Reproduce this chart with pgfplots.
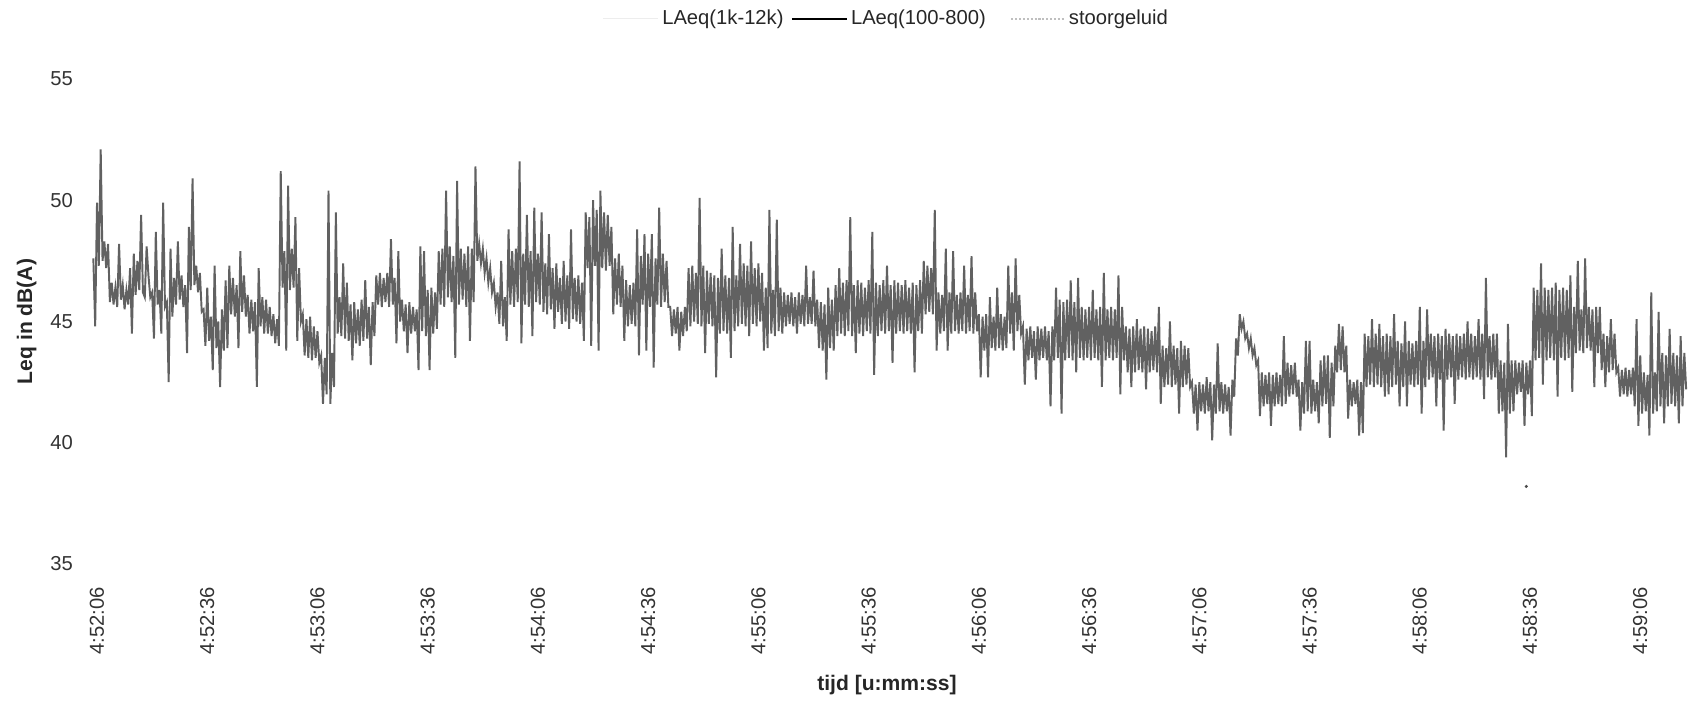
\documentclass[border=0pt]{standalone}
\usepackage{fontspec}
\setmainfont{Liberation Sans}
\usepackage{pgfplots}
\usepackage{pgfplotstable}
\pgfplotsset{compat=1.18}

% LAeq values, one every 0.5 s starting at -1 s (relative to 4:52:06)
\pgfplotstableread[header=false,row sep=\\]{
47.6\\44.8\\49.9\\47.3\\52.1\\47.5\\48.3\\47.2\\48.2\\45.8\\
46.6\\45.7\\46.4\\45.6\\48.2\\45.9\\46.5\\45.5\\46.3\\45.7\\
47.2\\44.5\\47.8\\46.1\\47.5\\46.3\\49.4\\46.2\\46.0\\48.1\\
46.9\\46.0\\46.2\\44.3\\48.7\\45.7\\46.3\\44.5\\49.9\\45.6\\
45.8\\42.5\\48.0\\45.2\\46.8\\45.7\\48.3\\45.9\\46.9\\45.6\\
46.5\\43.7\\48.9\\46.3\\50.9\\46.5\\47.3\\46.2\\47.0\\45.4\\
45.5\\44.0\\46.4\\44.2\\45.2\\43.0\\47.3\\43.9\\45.0\\42.3\\
45.5\\43.8\\46.7\\43.9\\47.3\\45.3\\46.8\\45.2\\46.5\\43.9\\
47.9\\45.4\\46.9\\45.2\\46.1\\44.5\\45.9\\44.6\\45.8\\42.3\\
47.2\\44.8\\46.0\\44.5\\45.9\\44.5\\45.6\\44.4\\45.3\\44.1\\
45.1\\44.0\\51.2\\46.4\\47.9\\43.8\\50.6\\46.3\\48.0\\46.4\\
49.3\\44.2\\47.2\\45.0\\45.3\\43.6\\45.1\\43.5\\45.2\\43.4\\
44.8\\43.5\\44.6\\43.3\\43.6\\41.6\\43.5\\42.0\\50.4\\41.6\\
43.7\\42.3\\49.5\\44.5\\46.0\\44.4\\47.4\\44.3\\46.6\\44.2\\
45.7\\43.4\\45.8\\44.1\\45.5\\44.0\\45.9\\44.2\\46.7\\44.3\\
45.6\\43.2\\45.8\\44.4\\46.9\\45.7\\47.0\\45.6\\46.8\\45.8\\
47.0\\45.6\\48.4\\45.7\\46.8\\44.1\\47.9\\45.0\\45.9\\44.6\\
45.7\\43.7\\45.8\\44.5\\45.6\\44.6\\45.5\\43.0\\48.1\\44.6\\
47.9\\44.4\\46.3\\43.0\\46.4\\44.5\\46.2\\44.7\\47.9\\45.7\\
48.0\\45.6\\50.4\\46.0\\48.1\\45.8\\47.7\\43.5\\50.8\\45.7\\
48.0\\45.9\\47.8\\45.6\\48.1\\44.2\\48.0\\45.8\\51.4\\47.5\\
48.2\\47.4\\48.0\\47.0\\47.6\\46.6\\47.2\\46.2\\46.6\\45.6\\
46.2\\44.9\\47.5\\44.8\\46.0\\44.2\\48.8\\45.7\\47.9\\45.6\\
48.0\\45.8\\51.6\\44.1\\47.8\\45.7\\49.4\\45.6\\47.9\\44.4\\
49.7\\45.8\\47.8\\45.7\\49.5\\45.4\\47.4\\45.3\\48.6\\45.5\\
47.2\\44.7\\47.4\\45.4\\46.8\\44.9\\47.5\\45.0\\46.9\\44.7\\
48.8\\45.1\\46.8\\45.0\\46.9\\44.9\\46.6\\44.2\\49.5\\47.2\\
49.3\\44.0\\50.0\\47.3\\49.6\\43.8\\50.4\\47.2\\49.5\\47.1\\
49.4\\47.3\\48.9\\45.3\\47.6\\45.7\\47.8\\45.6\\47.3\\44.2\\
46.7\\44.8\\46.5\\44.9\\46.6\\44.8\\48.8\\43.6\\47.7\\45.7\\
48.6\\43.8\\47.8\\45.6\\48.6\\43.1\\47.6\\45.7\\49.7\\45.6\\
47.8\\45.8\\47.5\\45.6\\45.6\\44.4\\45.5\\44.5\\45.6\\43.8\\
45.4\\44.4\\45.6\\44.6\\47.2\\44.8\\47.3\\45.0\\47.0\\44.9\\
50.1\\44.8\\47.3\\43.7\\47.1\\44.9\\47.0\\44.8\\46.9\\42.7\\
46.8\\44.5\\48.0\\44.6\\46.9\\44.5\\46.8\\43.5\\48.9\\44.6\\
46.9\\44.8\\48.2\\44.9\\47.4\\44.8\\47.3\\44.4\\48.3\\44.9\\
47.2\\44.8\\47.4\\45.0\\47.0\\43.8\\46.4\\43.9\\49.6\\44.5\\
46.3\\44.4\\49.2\\44.6\\46.4\\44.5\\46.2\\44.8\\46.1\\44.9\\
46.2\\44.8\\46.0\\44.5\\46.2\\44.9\\46.1\\44.8\\47.3\\44.9\\
46.0\\44.9\\47.1\\44.8\\45.9\\43.9\\45.8\\43.8\\45.7\\42.6\\
46.4\\43.9\\45.9\\43.8\\46.5\\44.4\\47.2\\44.5\\46.6\\44.4\\
46.7\\44.6\\49.3\\44.4\\46.5\\43.7\\46.7\\44.5\\46.6\\44.4\\
46.4\\44.6\\46.7\\44.5\\48.7\\42.8\\46.6\\44.4\\46.5\\44.6\\
46.7\\44.5\\47.3\\44.6\\46.5\\43.3\\46.7\\44.5\\46.6\\44.6\\
46.5\\44.5\\46.7\\44.6\\46.4\\44.5\\46.6\\42.9\\46.5\\44.6\\
46.7\\44.5\\47.5\\45.3\\47.3\\45.4\\47.2\\45.3\\49.6\\43.8\\
46.2\\44.5\\46.1\\44.6\\48.0\\43.8\\46.2\\44.5\\47.9\\44.6\\
46.1\\44.5\\46.2\\44.6\\47.3\\44.5\\46.1\\44.6\\47.7\\44.5\\
46.2\\44.6\\45.3\\42.7\\45.2\\43.8\\45.3\\42.7\\46.0\\43.9\\
45.2\\43.8\\46.4\\43.9\\45.3\\43.8\\45.2\\43.9\\47.3\\44.5\\
46.2\\43.8\\47.6\\44.6\\46.1\\44.5\\44.8\\42.4\\44.7\\43.4\\
44.8\\43.5\\44.6\\42.6\\44.8\\43.4\\44.7\\43.5\\44.8\\43.4\\
44.6\\41.5\\44.8\\43.4\\46.4\\43.5\\45.9\\41.2\\45.8\\43.4\\
45.9\\43.5\\46.7\\43.4\\45.8\\42.9\\46.8\\43.5\\45.6\\43.4\\
45.5\\43.5\\45.6\\43.4\\46.3\\43.5\\45.5\\43.4\\45.6\\42.3\\
47.0\\43.4\\45.5\\43.5\\45.6\\43.4\\45.5\\43.5\\46.9\\42.0\\
45.6\\43.4\\44.8\\42.9\\44.7\\42.3\\44.8\\42.9\\45.1\\43.0\\
44.7\\42.9\\44.8\\42.2\\44.7\\42.9\\44.6\\43.0\\44.8\\42.9\\
45.6\\41.6\\44.0\\42.3\\43.9\\42.4\\45.0\\42.3\\44.0\\42.4\\
43.9\\41.2\\44.2\\42.3\\44.0\\42.4\\43.9\\42.3\\42.5\\41.2\\
42.4\\40.5\\42.5\\41.3\\42.4\\41.2\\42.7\\41.3\\42.5\\40.1\\
42.4\\41.2\\44.1\\41.3\\42.5\\41.2\\42.4\\41.3\\42.3\\40.3\\
42.6\\41.9\\44.3\\43.6\\45.3\\44.7\\45.0\\44.3\\44.5\\43.9\\
44.3\\43.6\\43.9\\43.2\\43.4\\41.1\\42.9\\41.5\\42.8\\41.6\\
42.9\\40.7\\42.8\\41.5\\42.9\\41.6\\42.8\\41.5\\44.4\\41.6\\
43.3\\41.9\\43.2\\42.0\\43.3\\41.9\\42.6\\40.5\\42.5\\41.2\\
44.2\\41.3\\44.2\\41.2\\42.6\\41.3\\42.5\\40.8\\43.4\\41.5\\
43.6\\41.6\\43.6\\40.2\\43.3\\41.5\\44.0\\42.9\\44.9\\43.0\\
44.8\\42.9\\44.0\\41.0\\42.6\\41.5\\42.5\\41.6\\42.6\\40.3\\
42.5\\40.4\\44.5\\42.3\\44.4\\42.4\\45.1\\42.3\\44.5\\42.4\\
44.9\\42.3\\44.4\\41.9\\44.5\\42.0\\44.4\\42.3\\45.3\\42.4\\
44.2\\41.5\\44.1\\42.3\\45.0\\41.5\\44.2\\42.4\\44.1\\42.3\\
44.2\\42.4\\45.6\\41.2\\44.2\\42.3\\45.5\\42.6\\44.5\\42.7\\
44.4\\41.5\\44.5\\42.6\\44.4\\40.5\\44.7\\42.6\\44.5\\42.7\\
44.4\\41.6\\44.5\\42.6\\44.4\\42.7\\44.5\\42.6\\45.0\\42.7\\
44.5\\42.6\\44.4\\42.7\\45.1\\42.6\\44.5\\41.8\\46.8\\42.7\\
44.4\\42.6\\44.5\\42.7\\44.5\\41.2\\43.4\\41.3\\43.3\\39.4\\
44.9\\41.2\\43.4\\41.3\\43.4\\42.0\\43.3\\42.1\\43.4\\40.7\\
43.3\\42.0\\43.4\\41.1\\46.4\\43.4\\46.3\\43.5\\47.4\\42.4\\
46.4\\43.4\\46.3\\43.5\\46.4\\43.4\\46.6\\41.9\\46.3\\43.5\\
46.4\\43.4\\46.3\\43.5\\46.9\\42.1\\45.6\\43.7\\47.5\\43.8\\
45.5\\43.7\\47.6\\43.9\\45.6\\43.8\\45.5\\42.3\\45.6\\43.7\\
45.6\\43.0\\44.5\\42.3\\44.4\\42.9\\45.1\\43.0\\44.5\\42.9\\
43.1\\41.9\\43.0\\42.0\\43.1\\41.9\\43.0\\42.0\\43.1\\41.5\\
45.1\\40.7\\43.6\\41.2\\42.9\\41.3\\42.8\\40.3\\46.2\\41.2\\
42.9\\41.3\\45.4\\41.5\\43.7\\40.8\\43.6\\41.5\\44.7\\41.6\\
43.7\\41.5\\43.6\\40.8\\44.4\\41.5\\43.7\\42.2\\
}\leqdata

\begin{document}
\begin{tikzpicture}
\path[use as bounding box] (-17.2mm,-28mm) rectangle (321mm,112.8mm);
\begin{axis}[
    at={(0,0)}, anchor=south west,
    scale only axis,
    width=320.4mm, height=97mm,
    xmin=-3, xmax=433,
    ymin=35, ymax=55,
    axis line style={draw=none},
    major tick length=0pt,
    ytick={35,40,45,50,55},
    xtick={0,30,...,420},
    xticklabels={4:52:06,4:52:36,4:53:06,4:53:36,4:54:06,4:54:36,4:55:06,4:55:36,
                 4:56:06,4:56:36,4:57:06,4:57:36,4:58:06,4:58:36,4:59:06},
    /pgf/number format/assume math mode=true,
    tick label style={font=\fontsize{11.5}{13}\selectfont, text=black!80},
    xticklabel style={rotate=90, anchor=east},
    xticklabel shift=3.4mm,
    yticklabel shift=1.4mm,
    xlabel={tijd [u:mm:ss]},
    ylabel={Leq in dB(A)},
    label style={font=\fontsize{12}{14}\selectfont\bfseries, text=black!85},
    xlabel style={at={(axis description cs:0.5,-0.2495)}, anchor=center},
    ylabel style={at={(axis description cs:-0.037,0.5)}, anchor=center},
    legend columns=3,
    legend style={at={(axis description cs:0.5,1.124)}, anchor=center,
        draw=none, fill=none, font=\fontsize{11.5}{13}\selectfont,
        text=black!85,
        /tikz/every even column/.append style={column sep=0.8mm}},
    legend image code/.code={\draw[#1] (0mm,0mm) -- (11mm,0mm);},
]
\addlegendimage{black!7, line width=0.6pt}
\addlegendentry{LAeq(1k-12k)}
\addlegendimage{black, line width=0.8pt}
\addlegendentry{LAeq(100-800)}
\addlegendimage{legend image code/.code={%
    \path[draw=none] (0mm,0mm) -- (3.6mm,0mm);
    \draw[black!25, densely dotted, line width=1.2pt] (3.6mm,0mm) -- (14.2mm,0mm);}}
\addlegendentry{stoorgeluid}

\addplot[black!62, line width=1.1pt, forget plot]
    table[x expr=\coordindex*0.5-1, y index=0] {\leqdata};
\addplot[only marks, mark=*, mark size=0.7pt, black!70, forget plot]
    coordinates {(389,38.2)};
\end{axis}
\end{tikzpicture}
\end{document}
